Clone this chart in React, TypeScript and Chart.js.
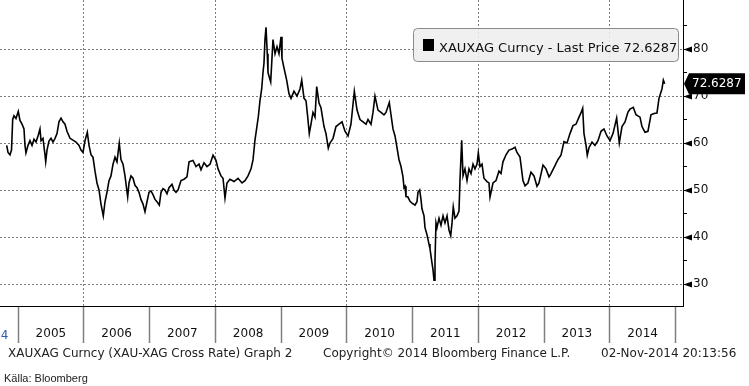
import React, { useEffect, useRef } from 'react';
import { Chart, registerables } from 'chart.js';

Chart.register(...registerables);

// Dates as decimal years, values of the XAU/XAG ratio
const dates = [
  2004.828, 2004.848, 2004.878, 2004.901, 2004.919, 2004.939, 2004.969, 2005.004, 2005.030, 2005.061,
  2005.091, 2005.106, 2005.121, 2005.152, 2005.182, 2005.213, 2005.243, 2005.274, 2005.304, 2005.334,
  2005.350, 2005.380, 2005.410, 2005.421, 2005.441, 2005.471, 2005.502, 2005.532, 2005.563, 2005.593,
  2005.623, 2005.654, 2005.684, 2005.715, 2005.745, 2005.791, 2005.836, 2005.882, 2005.928, 2005.958,
  2005.988, 2006.019, 2006.054, 2006.080, 2006.110, 2006.140, 2006.171, 2006.201, 2006.232, 2006.262,
  2006.297, 2006.323, 2006.353, 2006.384, 2006.414, 2006.445, 2006.475, 2006.505, 2006.540, 2006.566,
  2006.597, 2006.627, 2006.668, 2006.688, 2006.718, 2006.749, 2006.779, 2006.810, 2006.840, 2006.870,
  2006.901, 2006.931, 2006.962, 2006.992, 2007.022, 2007.053, 2007.083, 2007.114, 2007.149, 2007.175,
  2007.205, 2007.236, 2007.266, 2007.296, 2007.342, 2007.372, 2007.403, 2007.433, 2007.479, 2007.525,
  2007.570, 2007.601, 2007.661, 2007.707, 2007.753, 2007.783, 2007.829, 2007.874, 2007.920, 2007.966,
  2008.011, 2008.042, 2008.087, 2008.118, 2008.148, 2008.178, 2008.224, 2008.285, 2008.346, 2008.407,
  2008.452, 2008.498, 2008.544, 2008.574, 2008.604, 2008.655, 2008.680, 2008.706, 2008.726, 2008.741,
  2008.756, 2008.772, 2008.791, 2008.802, 2008.843, 2008.878, 2008.909, 2008.939, 2008.969, 2009.000,
  2009.015, 2009.045, 2009.086, 2009.121, 2009.152, 2009.197, 2009.243, 2009.289, 2009.315, 2009.350,
  2009.380, 2009.403, 2009.430, 2009.456, 2009.486, 2009.517, 2009.543, 2009.578, 2009.608, 2009.654,
  2009.684, 2009.719, 2009.745, 2009.791, 2009.836, 2009.882, 2009.928, 2009.973, 2010.019, 2010.064,
  2010.115, 2010.156, 2010.201, 2010.247, 2010.293, 2010.323, 2010.369, 2010.399, 2010.429, 2010.475,
  2010.521, 2010.566, 2010.597, 2010.647, 2010.673, 2010.703, 2010.734, 2010.764, 2010.794, 2010.825,
  2010.855, 2010.871, 2010.886, 2010.901, 2010.931, 2010.962, 2010.992, 2011.038, 2011.068, 2011.083,
  2011.109, 2011.129, 2011.144, 2011.175, 2011.190, 2011.220, 2011.251, 2011.266, 2011.296, 2011.312,
  2011.327, 2011.342, 2011.357, 2011.372, 2011.403, 2011.433, 2011.464, 2011.494, 2011.525, 2011.555,
  2011.581, 2011.601, 2011.620, 2011.646, 2011.677, 2011.707, 2011.722, 2011.748, 2011.768, 2011.798,
  2011.829, 2011.859, 2011.890, 2011.920, 2011.950, 2011.981, 2012.001, 2012.026, 2012.057, 2012.087,
  2012.133, 2012.163, 2012.179, 2012.224, 2012.270, 2012.315, 2012.346, 2012.376, 2012.422, 2012.467,
  2012.513, 2012.559, 2012.589, 2012.635, 2012.680, 2012.711, 2012.756, 2012.802, 2012.848, 2012.893,
  2012.924, 2012.985, 2013.030, 2013.076, 2013.106, 2013.167, 2013.213, 2013.258, 2013.304, 2013.350,
  2013.395, 2013.441, 2013.486, 2013.532, 2013.562, 2013.588, 2013.608, 2013.639, 2013.658, 2013.684,
  2013.730, 2013.775, 2013.821, 2013.867, 2013.912, 2013.958, 2014.004, 2014.049, 2014.105, 2014.145,
  2014.186, 2014.232, 2014.277, 2014.308, 2014.358, 2014.399, 2014.460, 2014.490, 2014.536, 2014.581,
  2014.627, 2014.673, 2014.718, 2014.749, 2014.794, 2014.815, 2014.836,
];

const ratio = [
  59.5, 58, 57.5, 58.5, 65, 65.8, 65.2, 66.7, 64.8, 64,
  63, 59.5, 57.9, 59.5, 60.5, 59.5, 60.8, 60.2, 61.5, 63,
  60.5, 61, 57.5, 56, 58.5, 60.4, 61, 60.2, 61, 62,
  64.5, 65.3, 64.5, 64, 62.5, 61, 60.6, 60.2, 59.5, 58.5,
  58, 60.5, 62.3, 59.5, 57.5, 57, 54, 51.5, 50, 47,
  44.5, 47.5, 49.5, 52, 53, 55.5, 57, 56, 60, 56.5,
  55.5, 53, 48.5, 51.5, 53, 52.5, 51, 50.5, 49.5, 48,
  47, 45.4, 47.5, 49.5, 49.8, 49, 48, 47.5, 46.8, 49.5,
  50.3, 50, 49.2, 50.5, 51.2, 50, 49.5, 50, 52, 52.3,
  52.8, 56, 56.3, 55, 55.5, 54.3, 55.8, 55, 55.5, 57.4,
  56.3, 54.5, 53, 52.5, 48.3, 51.5, 52.3, 51.8, 52.5, 51.5,
  52, 53, 54.5, 56.4, 60.6, 65.6, 69, 71.5, 75, 77,
  82, 84.6, 79, 75, 73, 82, 79, 80.5, 79, 82.6,
  78, 76, 73.4, 70.5, 69.5, 71, 70, 71.5, 73.4, 69.5,
  69, 66, 62, 64, 66.5, 65.5, 72, 68.5, 67.5, 63.5,
  62, 58.9, 60, 61, 63.5, 64, 64.5, 62.5, 61.5, 64,
  71, 67, 65, 64.5, 64, 65, 64, 66.5, 70, 67,
  66.5, 66, 66.5, 68.6, 66, 63, 61.5, 59, 56.5, 55,
  52.8, 50.5, 50.8, 48.6, 48.5, 47.6, 47.2, 46.8, 47.5, 49.5,
  50, 48, 46, 44.5, 42, 40.5, 38.5, 37.5, 34.5, 33,
  30.8, 35, 43, 42, 44, 42.5, 44.5, 43, 44.5, 41.5,
  40.3, 43, 46.4, 44, 44.5, 45.5, 52, 60.6, 53, 54.5,
  52, 54.5, 53.5, 55.5, 54.5, 55.5, 57.9, 55, 55.5, 52.5,
  51.8, 51.5, 48.5, 51.5, 52, 54, 53.5, 56, 57.5, 58.5,
  58.7, 59.1, 58, 57, 52, 50.9, 51.5, 53.8, 53, 50.8,
  51.5, 55.3, 54.5, 52.8, 53.5, 55.2, 56.5, 57.4, 60.3, 60,
  62, 63.7, 64, 65.5, 66.4, 67.4, 62, 59.5, 57.4, 59,
  60.2, 59.5, 60.5, 62.5, 63, 61.5, 60.5, 62, 65.3, 60,
  63.5, 64.5, 66.6, 67.2, 67.6, 66, 65.5, 63.5, 62.3, 62.5,
  66, 66.3, 66.4, 69.5, 71.5, 73.4, 72.6287,
];

const yearTicks = [2005, 2006, 2007, 2008, 2009, 2010, 2011, 2012, 2013, 2014, 2015];
const yTicks = [30, 35, 40, 45, 50, 55, 60, 65, 70, 75, 80, 85];
const lastPrice = 72.6287;
const legendText = 'XAUXAG Curncy - Last Price 72.6287';
const footerLeft = 'XAUXAG Curncy (XAU-XAG Cross Rate) Graph 2';
const footerMid = 'Copyright\u00A9 2014 Bloomberg Finance L.P.';
const footerRight = '02-Nov-2014 20:13:56';
const sourceText = 'Källa: Bloomberg';

const FONT = '"DejaVu Sans"';
const GRID = '#7c7c7c';

const overlay = {
  id: 'overlay',
  afterDraw(chart: any) {
    const { ctx, chartArea, scales } = chart;
    const ys = scales.y;
    const r = chartArea.right;
    ctx.save();
    // major tick arrows on right axis
    ctx.fillStyle = '#000';
    yTicks.filter((v) => v % 10 === 0).forEach((v) => {
      const py = Math.round(ys.getPixelForValue(v)) + 0.5;
      ctx.beginPath();
      ctx.moveTo(r + 0.5, py);
      ctx.lineTo(r + 9, py - 3);
      ctx.lineTo(r + 9, py + 3);
      ctx.closePath();
      ctx.fill();
    });
    // last price tag
    const ly = ys.getPixelForValue(lastPrice);
    ctx.fillStyle = '#000';
    ctx.beginPath();
    ctx.moveTo(r + 1, ly);
    ctx.lineTo(r + 6, ly - 10.5);
    ctx.lineTo(r + 62, ly - 10.5);
    ctx.lineTo(r + 62, ly + 10.5);
    ctx.lineTo(r + 6, ly + 10.5);
    ctx.closePath();
    ctx.fill();
    ctx.fillStyle = '#fff';
    ctx.font = `12px ${FONT}`;
    ctx.textBaseline = 'middle';
    ctx.textAlign = 'left';
    ctx.fillText(lastPrice.toFixed(4), r + 9, ly + 0.5);

    // legend box
    ctx.beginPath();
    (ctx as any).roundRect(413.5, 28.5, 265, 33, 4);
    ctx.fillStyle = 'rgba(238,238,238,0.88)';
    ctx.fill();
    ctx.strokeStyle = '#8a8a8a';
    ctx.lineWidth = 1;
    ctx.stroke();
    ctx.fillStyle = '#000';
    ctx.fillRect(423, 39, 11, 12);
    ctx.fillStyle = '#111';
    ctx.font = `13px ${FONT}`;
    ctx.textBaseline = 'alphabetic';
    ctx.fillText(legendText, 439, 51.5);

    // partial first year label
    ctx.font = `12px ${FONT}`;
    ctx.fillStyle = '#2a5db0';
    ctx.textAlign = 'right';
    ctx.fillText('2004', chartArea.left + 8.5, 339);

    // footer
    ctx.textAlign = 'left';
    ctx.fillStyle = '#222';
    ctx.font = `12px ${FONT}`;
    ctx.fillText(footerLeft, 8, 357);
    ctx.fillText(footerMid, 323, 357);
    ctx.fillText(footerRight, 601, 357);
    ctx.font = '11px "Liberation Sans"';
    ctx.fillStyle = '#222';
    ctx.fillText(sourceText, 4, 382);
    ctx.restore();
  },
};

export default function App() {
  const ref = useRef<HTMLCanvasElement>(null);
  useEffect(() => {
    if (!ref.current) return;
    Chart.defaults.font.family = FONT;
    const chart = new Chart(ref.current, {
      type: 'line',
      data: {
        datasets: [
          {
            label: 'XAUXAG Curncy',
            data: dates.map((d, i) => ({ x: d, y: ratio[i] })),
            borderColor: '#000',
            borderWidth: 1.6,
            pointRadius: 0,
            tension: 0,
            fill: false,
          },
        ],
      },
      options: {
        responsive: false,
        animation: false,
        devicePixelRatio: 1,
        layout: { padding: 0 },
        plugins: { legend: { display: false }, tooltip: { enabled: false } },
        scales: {
          x: {
            type: 'linear',
            position: 'bottom',
            min: 2004.726,
            max: 2015.114,
            afterBuildTicks: (scale: any) => {
              const t: any[] = [];
              yearTicks.forEach((y, i) => {
                t.push({ value: y });
                if (i < yearTicks.length - 1) t.push({ value: y + 0.5 });
              });
              scale.ticks = t;
            },
            afterFit: (scale: any) => {
              scale.height = 80;
              scale.paddingLeft = 0;
              scale.paddingRight = 0;
            },
            ticks: {
              autoSkip: false,
              maxRotation: 0,
              padding: -16,
              color: '#111',
              font: { family: FONT, size: 12 },
              callback: (v: any) => (Number.isInteger(v) ? '' : String(Math.floor(v))),
            },
            grid: {
              color: (c: any) => {
                const v = c.tick ? c.tick.value : NaN;
                return Number.isInteger(v) && v % 2 === 0 ? GRID : 'rgba(255,255,255,0)';
              },
              tickColor: (c: any) => {
                const v = c.tick ? c.tick.value : NaN;
                return Number.isInteger(v) ? '#808080' : 'rgba(255,255,255,0)';
              },
              tickLength: 37,
              tickWidth: 1.5,
              tickBorderDash: [],
              lineWidth: 1,
            },
            border: { display: true, color: '#000', width: 1, dash: [2, 2] },
          },
          y: {
            type: 'linear',
            position: 'right',
            min: 25.32,
            max: 90.43,
            afterBuildTicks: (scale: any) => {
              scale.ticks = yTicks.map((v) => ({ value: v }));
            },
            afterFit: (scale: any) => {
              scale.width = 66;
              scale.paddingTop = 0;
              scale.paddingBottom = 0;
            },
            ticks: {
              autoSkip: false,
              padding: 6,
              color: '#111',
              font: { family: FONT, size: 12 },
              callback: (v: any) => (v % 10 === 0 ? String(v) : ''),
            },
            grid: {
              color: (c: any) => {
                const v = c.tick ? c.tick.value : NaN;
                return v % 10 === 0 ? GRID : 'rgba(255,255,255,0)';
              },
              tickColor: '#000',
              tickLength: 4,
              tickBorderDash: [],
              lineWidth: 1,
            },
            border: { display: true, color: '#000', width: 1, dash: [2, 2] },
          },
        },
      },
      plugins: [overlay],
    } as any);
    return () => chart.destroy();
  }, []);
  return (
    <div style={{ position: 'absolute', left: 0, top: 0, width: 749, height: 386, background: '#fff' }}>
      <canvas ref={ref} width={749} height={386} style={{ width: 749, height: 386, display: 'block' }} />
    </div>
  );
}
